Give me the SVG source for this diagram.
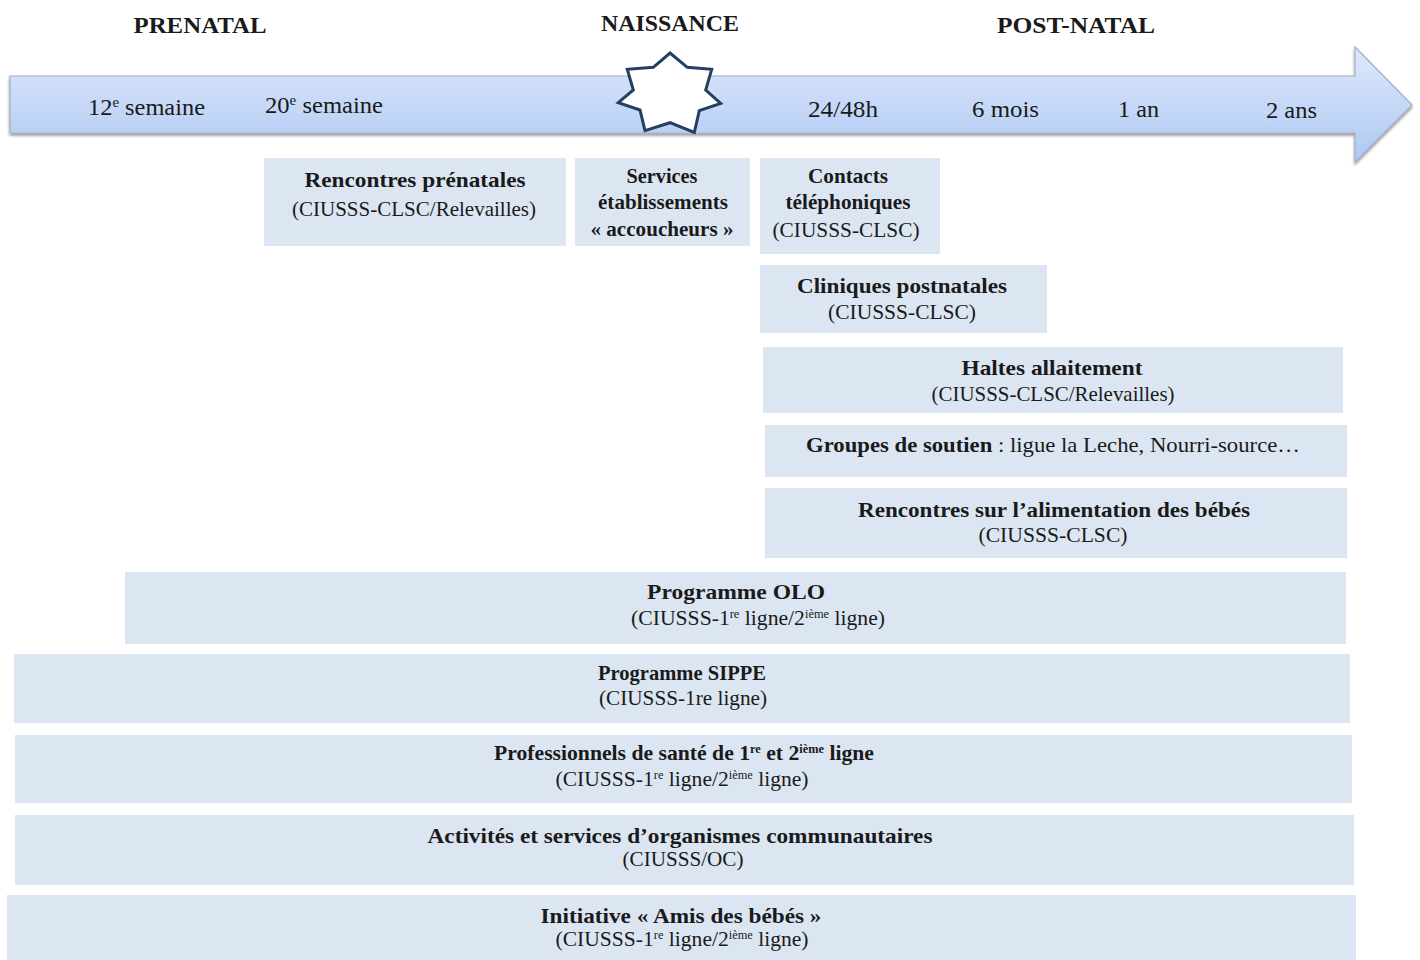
<svg xmlns="http://www.w3.org/2000/svg" width="1420" height="960" viewBox="0 0 1420 960">
  <style>
    text { font-family: "Liberation Serif", "Times New Roman", serif; fill: #1a1a1a; }
    .hd { font-size: 23px; font-weight: bold; text-anchor: middle; }
    .tl { font-size: 23px; }
    .b { font-size: 21px; font-weight: bold; text-anchor: middle; }
    .r { font-size: 21px; text-anchor: middle; }
    .box { fill: #dce6f2; }
    .sup { font-size: 12px; }
    .tsup { font-size: 14px; }
  </style>
  <defs>
    <linearGradient id="arrowFill" x1="0" y1="0" x2="0" y2="1">
      <stop offset="0" stop-color="#dfe9fc"/>
      <stop offset="1" stop-color="#adc8f3"/>
    </linearGradient>
    <filter id="shadow" x="-5%" y="-20%" width="110%" height="150%">
      <feGaussianBlur in="SourceAlpha" stdDeviation="1.5"/>
      <feOffset dx="0" dy="2" result="s"/>
      <feComponentTransfer><feFuncA type="linear" slope="0.45"/></feComponentTransfer>
      <feMerge><feMergeNode/><feMergeNode in="SourceGraphic"/></feMerge>
    </filter>
  </defs>

  <!-- period headings -->
  <g id="headings">
    <text class="hd" x="200" y="33" textLength="133" lengthAdjust="spacingAndGlyphs">PRENATAL</text>
    <text class="hd" x="670" y="31" textLength="138" lengthAdjust="spacingAndGlyphs">NAISSANCE</text>
    <text class="hd" x="1076" y="33" textLength="158" lengthAdjust="spacingAndGlyphs">POST-NATAL</text>
  </g>

  <!-- timeline arrow -->
  <g id="timeline">
    <path d="M10,76 L1355,76 L1355,47 L1412,105 L1355,162 L1355,133 L10,133 Z" fill="url(#arrowFill)" stroke="#9fb0c8" stroke-width="1.2" filter="url(#shadow)"/>
    <polygon id="birth-star" fill="#ffffff" stroke="#243f60" stroke-width="3" stroke-linejoin="miter"
      points="670,53 687.3,67.3 711.7,69.3 705.7,90 720.7,103.3 699.3,110.7 694.3,132.5 670,122.7 645,130.7 640,110 618.3,102.7 633.3,90 627.3,69.3 653.3,67.3"/>
    <text class="tl" x="88" y="115" textLength="117" lengthAdjust="spacingAndGlyphs">12<tspan class="tsup" dy="-8">e</tspan><tspan dy="8"> semaine</tspan></text>
    <text class="tl" x="265" y="113" textLength="118" lengthAdjust="spacingAndGlyphs">20<tspan class="tsup" dy="-8">e</tspan><tspan dy="8"> semaine</tspan></text>
    <text class="tl" x="808" y="117" textLength="70" lengthAdjust="spacingAndGlyphs">24/48h</text>
    <text class="tl" x="972" y="117" textLength="67" lengthAdjust="spacingAndGlyphs">6 mois</text>
    <text class="tl" x="1118" y="117" textLength="41" lengthAdjust="spacingAndGlyphs">1 an</text>
    <text class="tl" x="1266" y="118" textLength="51" lengthAdjust="spacingAndGlyphs">2 ans</text>
  </g>

  <g id="rencontres-prenatales">
    <rect class="box" x="264" y="158" width="302" height="88"/>
    <text class="b" x="415" y="187" textLength="221" lengthAdjust="spacingAndGlyphs">Rencontres prénatales</text>
    <text class="r" x="414" y="216" textLength="244" lengthAdjust="spacingAndGlyphs">(CIUSSS-CLSC/Relevailles)</text>
  </g>

  <g id="services-etablissements">
    <rect class="box" x="575" y="158" width="175" height="88"/>
    <text class="b" x="662" y="183" textLength="71" lengthAdjust="spacingAndGlyphs">Services</text>
    <text class="b" x="663" y="209" textLength="130" lengthAdjust="spacingAndGlyphs">établissements</text>
    <text class="b" x="662" y="236" textLength="143" lengthAdjust="spacingAndGlyphs">« accoucheurs »</text>
  </g>

  <g id="contacts-telephoniques">
    <rect class="box" x="760" y="158" width="180" height="96"/>
    <text class="b" x="848" y="183" textLength="80" lengthAdjust="spacingAndGlyphs">Contacts</text>
    <text class="b" x="848" y="209" textLength="125" lengthAdjust="spacingAndGlyphs">téléphoniques</text>
    <text class="r" x="846" y="237" textLength="147" lengthAdjust="spacingAndGlyphs">(CIUSSS-CLSC)</text>
  </g>

  <g id="cliniques-postnatales">
    <rect class="box" x="760" y="265" width="287" height="68"/>
    <text class="b" x="902" y="293" textLength="210" lengthAdjust="spacingAndGlyphs">Cliniques postnatales</text>
    <text class="r" x="902" y="319" textLength="148" lengthAdjust="spacingAndGlyphs">(CIUSSS-CLSC)</text>
  </g>

  <g id="haltes-allaitement">
    <rect class="box" x="763" y="347" width="580" height="66"/>
    <text class="b" x="1052" y="375" textLength="181" lengthAdjust="spacingAndGlyphs">Haltes allaitement</text>
    <text class="r" x="1053" y="401" textLength="243" lengthAdjust="spacingAndGlyphs">(CIUSSS-CLSC/Relevailles)</text>
  </g>

  <g id="groupes-soutien">
    <rect class="box" x="765" y="425" width="582" height="52"/>
    <text class="r" x="1053" y="452" textLength="494" lengthAdjust="spacingAndGlyphs"><tspan font-weight="bold">Groupes de soutien</tspan> : ligue la Leche, Nourri-source…</text>
  </g>

  <g id="rencontres-alimentation">
    <rect class="box" x="765" y="488" width="582" height="70"/>
    <text class="b" x="1054" y="517" textLength="392" lengthAdjust="spacingAndGlyphs">Rencontres sur l’alimentation des bébés</text>
    <text class="r" x="1053" y="542" textLength="149" lengthAdjust="spacingAndGlyphs">(CIUSSS-CLSC)</text>
  </g>

  <g id="programme-olo">
    <rect class="box" x="125" y="572" width="1221" height="72"/>
    <text class="b" x="736" y="599" textLength="178" lengthAdjust="spacingAndGlyphs">Programme OLO</text>
    <text class="r" x="758" y="625" textLength="254" lengthAdjust="spacingAndGlyphs">(CIUSSS-1<tspan class="sup" dy="-7">re</tspan><tspan dy="7"> ligne/2</tspan><tspan class="sup" dy="-7">ième</tspan><tspan dy="7"> ligne)</tspan></text>
  </g>

  <g id="programme-sippe">
    <rect class="box" x="14" y="654" width="1336" height="69"/>
    <text class="b" x="682" y="680" textLength="168" lengthAdjust="spacingAndGlyphs">Programme SIPPE</text>
    <text class="r" x="683" y="705" textLength="168" lengthAdjust="spacingAndGlyphs">(CIUSSS-1re ligne)</text>
  </g>

  <g id="professionnels-sante">
    <rect class="box" x="15" y="735" width="1337" height="68"/>
    <text class="b" x="684" y="760" textLength="380" lengthAdjust="spacingAndGlyphs">Professionnels de santé de 1<tspan class="sup" dy="-7">re</tspan><tspan dy="7"> et 2</tspan><tspan class="sup" dy="-7">ième</tspan><tspan dy="7"> ligne</tspan></text>
    <text class="r" x="682" y="786" textLength="253" lengthAdjust="spacingAndGlyphs">(CIUSSS-1<tspan class="sup" dy="-7">re</tspan><tspan dy="7"> ligne/2</tspan><tspan class="sup" dy="-7">ième</tspan><tspan dy="7"> ligne)</tspan></text>
  </g>

  <g id="activites-communautaires">
    <rect class="box" x="15" y="815" width="1339" height="70"/>
    <text class="b" x="680" y="843" textLength="505" lengthAdjust="spacingAndGlyphs">Activités et services d’organismes communautaires</text>
    <text class="r" x="683" y="866" textLength="121" lengthAdjust="spacingAndGlyphs">(CIUSSS/OC)</text>
  </g>

  <g id="initiative-amis-bebes">
    <rect class="box" x="7" y="895" width="1349" height="65"/>
    <text class="b" x="681" y="923" textLength="281" lengthAdjust="spacingAndGlyphs">Initiative « Amis des bébés »</text>
    <text class="r" x="682" y="946" textLength="253" lengthAdjust="spacingAndGlyphs">(CIUSSS-1<tspan class="sup" dy="-7">re</tspan><tspan dy="7"> ligne/2</tspan><tspan class="sup" dy="-7">ième</tspan><tspan dy="7"> ligne)</tspan></text>
  </g>
</svg>
